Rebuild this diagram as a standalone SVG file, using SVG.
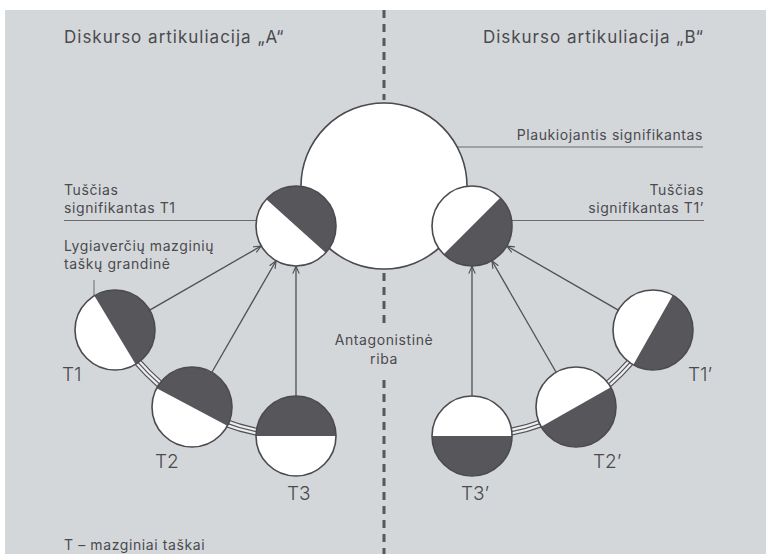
<svg xmlns="http://www.w3.org/2000/svg" width="766" height="554" viewBox="0 0 766 554">
<style>
.txt{font-family:Inter,"Noto Sans","Liberation Sans",sans-serif;fill:#4a4a4f}
.h{font-size:17px;letter-spacing:1px}
.s{font-size:14px;letter-spacing:0.6px}
.t{font-size:19px;font-weight:300}
.ol{fill:none;stroke:#4a4a4f;stroke-width:1.6}
.dark{fill:#57565b}
.arr{stroke:#4f4f54;stroke-width:1.3;fill:none;marker-end:url(#ah)}
.lead{stroke:#6a6a6e;stroke-width:1;fill:none}
.dash{stroke:#58575c;stroke-width:3;stroke-dasharray:8 6}
</style>
<defs>
<marker id="ah" viewBox="0 0 10 10" refX="9.5" refY="5" markerWidth="8" markerHeight="8" markerUnits="userSpaceOnUse" orient="auto">
<path d="M0,1 L9.5,5 L0,9" fill="none" stroke="#4f4f54" stroke-width="1.4"/>
</marker>
<path id="half" d="M-40 0 A40 40 0 0 1 40 0 Z"/>
</defs>
<rect x="0" y="0" width="766" height="554" fill="#ffffff"/>
<rect x="5" y="10" width="761" height="544" fill="#d4d7da"/>

<g id="divider">
<line class="dash" x1="384" y1="10" x2="384" y2="100"/>
<line class="dash" x1="384" y1="273" x2="384" y2="327"/>
<line class="dash" x1="384" y1="380" x2="384" y2="554"/>
</g>

<g id="headers">
<text class="txt h" x="64" y="43">Diskurso artikuliacija „A“</text>
<text class="txt h" x="704" y="43" text-anchor="end">Diskurso artikuliacija „B“</text>
</g>

<g id="chains">
<path d="M115 330 A213.5 213.5 0 0 0 296 436" fill="none" stroke="#505055" stroke-width="8"/>
<path d="M115 330 A213.5 213.5 0 0 0 296 436" fill="none" stroke="#eceded" stroke-width="5.6"/>
<path d="M115 330 A213.5 213.5 0 0 0 296 436" fill="none" stroke="#505055" stroke-width="1.2"/>
<path d="M472 436 A213.5 213.5 0 0 0 653 330" fill="none" stroke="#505055" stroke-width="8"/>
<path d="M472 436 A213.5 213.5 0 0 0 653 330" fill="none" stroke="#eceded" stroke-width="5.6"/>
<path d="M472 436 A213.5 213.5 0 0 0 653 330" fill="none" stroke="#505055" stroke-width="1.2"/>
</g>

<g id="connectors">
<line class="arr" x1="149.7" y1="310.1" x2="261.3" y2="245.9"/>
<line class="arr" x1="211.9" y1="372.3" x2="276.1" y2="260.7"/>
<line class="arr" x1="296" y1="396" x2="296" y2="266"/>
<line class="arr" x1="618.3" y1="310.1" x2="506.7" y2="245.9"/>
<line class="arr" x1="556.1" y1="372.3" x2="491.9" y2="260.7"/>
<line class="arr" x1="472" y1="396" x2="472" y2="266"/>
<line class="lead" x1="458" y1="147" x2="703" y2="147"/>
<line class="lead" x1="64" y1="220.5" x2="256" y2="220.5"/>
<line class="lead" x1="512" y1="220.5" x2="704" y2="220.5"/>
<line class="lead" x1="94" y1="280" x2="94" y2="297"/>
</g>

<g id="floating">
<circle cx="384" cy="186" r="83" fill="#ffffff" stroke="#4a4a4f" stroke-width="1.6"/>
<text class="txt s" x="703" y="140" text-anchor="end">Plaukiojantis signifikantas</text>
</g>

<g id="empty-A">
<circle cx="296" cy="226" r="40" fill="#fff"/>
<use href="#half" class="dark" transform="translate(296 226) rotate(42)"/>
<circle cx="296" cy="226" r="40" class="ol"/>
<text class="txt s" x="64" y="195">Tuščias</text>
<text class="txt s" x="64" y="213">signifikantas T1</text>
</g>

<g id="empty-B">
<circle cx="472" cy="226" r="40" fill="#fff"/>
<use href="#half" class="dark" transform="translate(472 226) rotate(135)"/>
<circle cx="472" cy="226" r="40" class="ol"/>
<text class="txt s" x="704" y="195" text-anchor="end">Tuščias</text>
<text class="txt s" x="704" y="213" text-anchor="end">signifikantas T1’</text>
</g>

<g id="chain-label">
<text class="txt s" x="64" y="251">Lygiaverčių mazginių</text>
<text class="txt s" x="64" y="269">taškų grandinė</text>
</g>

<g id="T1">
<circle cx="115" cy="330" r="40" fill="#fff"/>
<use href="#half" class="dark" transform="translate(115 330) rotate(59)"/>
<circle cx="115" cy="330" r="40" class="ol"/>
<text class="txt t" x="62" y="381">T1</text>
</g>
<g id="T2">
<circle cx="192" cy="407" r="40" fill="#fff"/>
<use href="#half" class="dark" transform="translate(192 407) rotate(28)"/>
<circle cx="192" cy="407" r="40" class="ol"/>
<text class="txt t" x="155" y="468">T2</text>
</g>
<g id="T3">
<circle cx="296" cy="436" r="40" fill="#fff"/>
<use href="#half" class="dark" transform="translate(296 436) rotate(0)"/>
<circle cx="296" cy="436" r="40" class="ol"/>
<text class="txt t" x="287" y="500">T3</text>
</g>
<g id="T3p">
<circle cx="472" cy="436" r="40" fill="#fff"/>
<use href="#half" class="dark" transform="translate(472 436) rotate(180)"/>
<circle cx="472" cy="436" r="40" class="ol"/>
<text class="txt t" x="461" y="500">T3’</text>
</g>
<g id="T2p">
<circle cx="576" cy="407" r="40" fill="#fff"/>
<use href="#half" class="dark" transform="translate(576 407) rotate(150.5)"/>
<circle cx="576" cy="407" r="40" class="ol"/>
<text class="txt t" x="593" y="468">T2’</text>
</g>
<g id="T1p">
<circle cx="653" cy="330" r="40" fill="#fff"/>
<use href="#half" class="dark" transform="translate(653 330) rotate(119.5)"/>
<circle cx="653" cy="330" r="40" class="ol"/>
<text class="txt t" x="688" y="381">T1’</text>
</g>

<g id="boundary-label">
<text class="txt s" x="384" y="345" text-anchor="middle">Antagonistinė</text>
<text class="txt s" x="384" y="364" text-anchor="middle">riba</text>
</g>

<g id="legend">
<text class="txt s" x="64" y="550">T – mazginiai taškai</text>
</g>
</svg>
